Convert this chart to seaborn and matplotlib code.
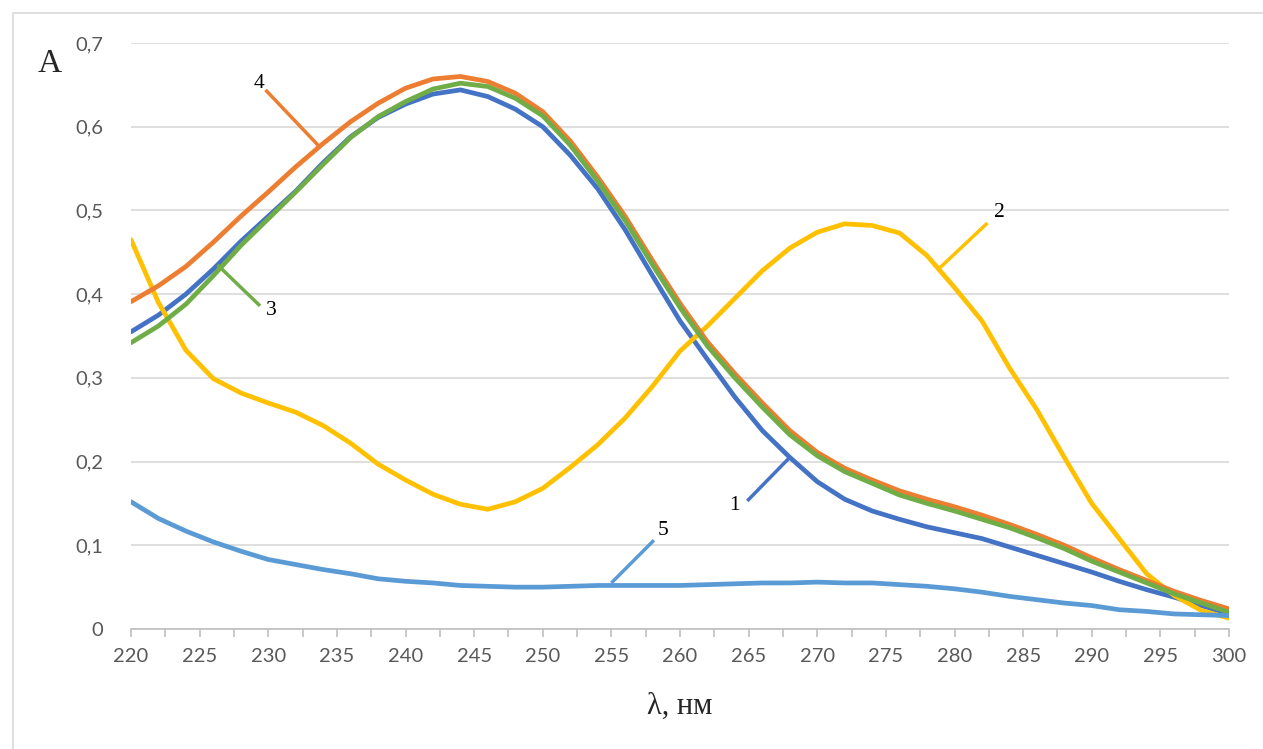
import numpy as np
import pandas as pd
import matplotlib
matplotlib.use("Agg")
import matplotlib.pyplot as plt
import seaborn as sns
from matplotlib.patches import Rectangle
from matplotlib.ticker import FuncFormatter, MultipleLocator

# длины волн, нм
wl = list(range(220, 301, 2))

# оптическая плотность, кривые 1-5
a1 = [.355, .375, .400, .430, .463, .493, .523, .557, .588, .611, .627, .639, .644, .636, .621,
      .600, .566, .526, .477, .422, .368, .322, .277, .237, .205, .176, .155, .141, .131, .122,
      .115, .108, .098, .088, .078, .068, .057, .047, .038, .028, .018]
a2 = [.465, .390, .333, .299, .282, .270, .259, .243, .222, .197, .178, .161, .149, .143, .152,
      .168, .193, .220, .252, .290, .332, .362, .395, .428, .455, .474, .484, .482, .473, .446,
      .408, .368, .312, .262, .205, .150, .108, .066, .040, .022, .013]
a3 = [.342, .362, .388, .422, .458, .490, .522, .555, .587, .612, .630, .645, .652, .648, .634,
      .613, .578, .535, .488, .435, .384, .338, .300, .265, .232, .207, .188, .174, .160, .150,
      .141, .131, .121, .109, .096, .081, .068, .055, .042, .031, .020]
a4 = [.391, .410, .433, .462, .493, .522, .552, .580, .606, .628, .646, .657, .660, .654, .640,
      .618, .583, .540, .493, .440, .389, .343, .305, .270, .237, .211, .192, .178, .165, .155,
      .146, .136, .125, .113, .100, .085, .071, .058, .045, .034, .024]
a5 = [.152, .132, .117, .104, .093, .083, .077, .071, .066, .060, .057, .055, .052, .051, .050,
      .050, .051, .052, .052, .052, .052, .053, .054, .055, .055, .056, .055, .055, .053, .051,
      .048, .044, .039, .035, .031, .028, .023, .021, .018, .017, .016]

names = ["1", "2", "3", "4", "5"]
colors = {"1": "#4472C4", "2": "#FFC000", "3": "#70AD47", "4": "#ED7D31", "5": "#5B9BD5"}

# подписи кривых: номер, положение текста, выноска (от, до)
labels = [
    ("4", (229.3, 0.652), (229.8, 0.644), (233.8, 0.575)),
    ("3", (230.2, 0.381), (229.4, 0.386), (226.3, 0.435)),
    ("2", (283.3, 0.498), (282.4, 0.485), (278.9, 0.431)),
    ("1", (264.0, 0.148), (264.9, 0.153), (268.0, 0.205)),
    ("5", (258.8, 0.118), (258.1, 0.106), (255.0, 0.055)),
]

df = pd.concat([pd.DataFrame({"wl": wl, "A": v, "curve": n})
                for n, v in zip(names, [a1, a2, a3, a4, a5])])

sns.set_theme(style="white")
plt.rcParams["font.family"] = ["Lato", "DejaVu Sans"]

fig = plt.figure(figsize=(12.63, 7.49), dpi=100)
ax = fig.add_axes([131 / 1263, 1 - 629 / 749, 1098 / 1263, 586 / 749])

sns.lineplot(data=df, x="wl", y="A", hue="curve", hue_order=["1", "2", "4", "3", "5"],
             palette=colors, linewidth=3.4, legend=False, ax=ax, sort=False)

for txt, tpos, p0, p1 in labels:
    ax.plot([p0[0], p1[0]], [p0[1], p1[1]], color=colors[txt], lw=2.5,
            solid_capstyle="butt", zorder=5)
    ax.text(tpos[0], tpos[1], txt, fontsize=15.5, family="Liberation Serif",
            ha="center", va="center", color="black", zorder=6)

ax.set_xlim(220, 300)
ax.set_ylim(0, 0.7)
ax.xaxis.set_major_locator(MultipleLocator(5))
ax.xaxis.set_minor_locator(MultipleLocator(2.5))
ax.yaxis.set_major_locator(MultipleLocator(0.1))
ax.yaxis.set_major_formatter(FuncFormatter(
    lambda v, p: "0" if abs(v) < 1e-9 else f"{v:.1f}".replace(".", ",")))

ax.grid(axis="y", color="#d9d9d9", lw=1.2)
ax.grid(axis="x", visible=False)
ax.set_axisbelow(True)
for s in ["left", "right", "top"]:
    ax.spines[s].set_visible(False)
ax.spines["bottom"].set_color("#bfbfbf")
ax.spines["bottom"].set_linewidth(1.2)

ax.tick_params(axis="x", which="both", bottom=True, length=6, width=1.2, color="#bfbfbf",
               labelsize=14.5, labelcolor="#595959", pad=8)
ax.tick_params(axis="y", left=False, labelsize=14.5, labelcolor="#595959", pad=14)
ax.set_xlabel("")
ax.set_ylabel("")

fig.text(50 / 1263, 1 - 64 / 749, "A", fontsize=24, family="Liberation Serif",
         ha="center", va="center")
fig.text(680 / 1263, 1 - 706 / 749, "λ, нм", fontsize=22, family="Liberation Serif",
         ha="center", va="center")

fig.patches.append(Rectangle((13 / 1263, -0.1), 1.2, 1.1 - 13 / 749, transform=fig.transFigure,
                             fill=False, edgecolor="#d9d9d9", lw=1.2))

fig.savefig("out.png", dpi=100)
